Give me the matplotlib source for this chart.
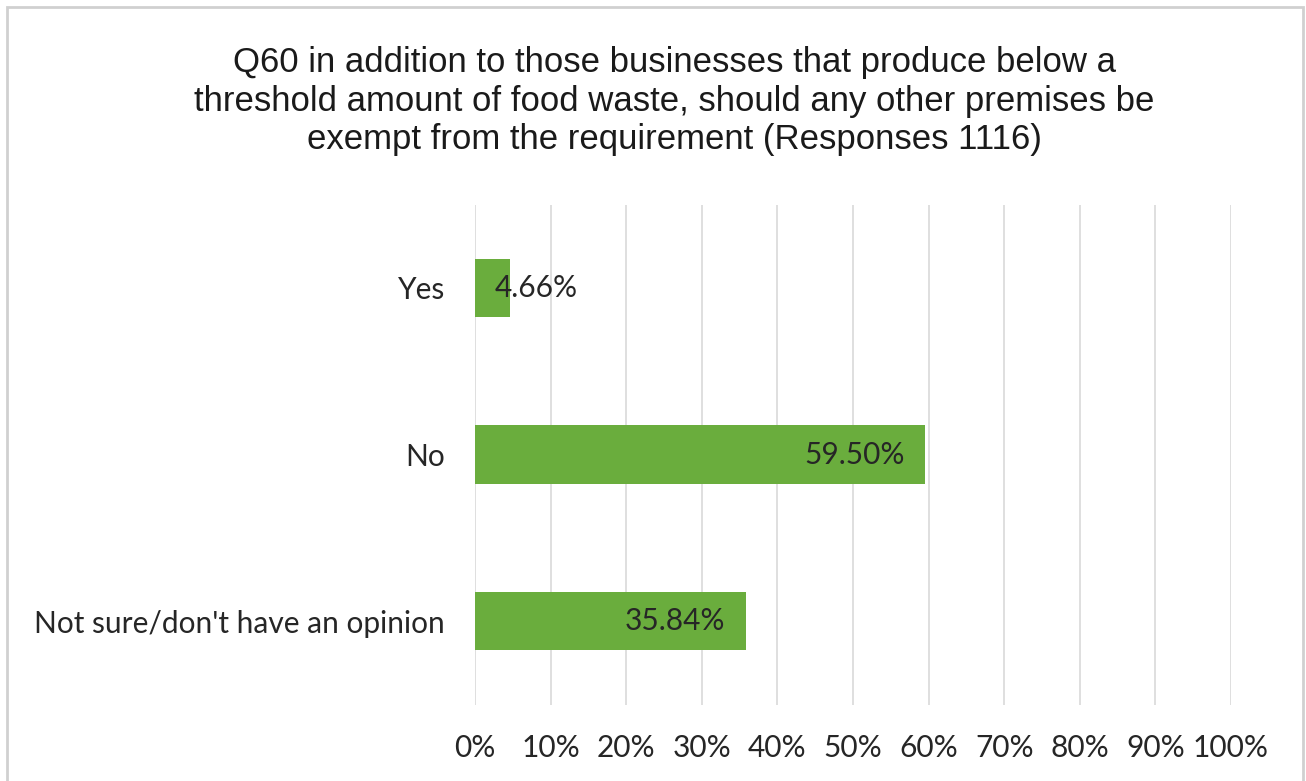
import matplotlib.pyplot as plt
import matplotlib.patches as mpatches
from matplotlib.ticker import FuncFormatter, MultipleLocator

# ─── Data ─────────────────────────────────────────────────────────────────────

CATEGORIES = ["Yes", "No", "Not sure/don't have an opinion"]
PERCENTAGES = [4.66, 59.50, 35.84]
TITLE = ("Q60 in addition to those businesses that produce below a\n"
         "threshold amount of food waste, should any other premises be\n"
         "exempt from the requirement (Responses 1116)")

BAR_COLOR = "#6aad3d"
LABEL_FONT = ["Lato", "DejaVu Sans"]
TITLE_FONT = ["Liberation Sans", "DejaVu Sans"]
LABEL_SIZE = 21.5


# ─── Figure ───────────────────────────────────────────────────────────────────

W, H = 1306, 781
fig = plt.figure(figsize=(W / 100, H / 100), dpi=100)
fig.patch.set_facecolor("white")

# light chart frame
frame = mpatches.Rectangle((7 / W, -0.05), (1303 - 7) / W, 1.05 - 7 / H,
                           transform=fig.transFigure, fill=False,
                           edgecolor="#d0d0d0", linewidth=2)
fig.add_artist(frame)

left, right = 475 / W, 1231 / W
top, bottom = 1 - 204.5 / H, 1 - 704.5 / H
ax = fig.add_axes([left, bottom, right - left, top - bottom])

ypos = range(len(CATEGORIES))
ax.barh(ypos, PERCENTAGES, height=0.35, color=BAR_COLOR, zorder=3)

ax.set_xlim(0, 100)
ax.set_ylim(len(CATEGORIES) - 0.5, -0.5)
ax.xaxis.set_major_locator(MultipleLocator(10))
ax.xaxis.set_major_formatter(FuncFormatter(lambda v, _: f"{v:.0f}%"))
ax.grid(axis="x", color="#d9d9d9", linewidth=1.2, zorder=0)

ax.set_yticks(list(ypos))
ax.set_yticklabels(CATEGORIES)
for spine in ax.spines.values():
    spine.set_visible(False)
ax.tick_params(axis="both", length=0, labelsize=LABEL_SIZE, colors="#262626")
ax.tick_params(axis="x", pad=21)
ax.tick_params(axis="y", pad=21.5)
for lbl in ax.get_xticklabels() + ax.get_yticklabels():
    lbl.set_fontfamily(LABEL_FONT)

# value labels: inside the end of the bar, or just past the start for short bars
for y, val in zip(ypos, PERCENTAGES):
    if val > 10:
        ax.text(val - 2.7, y, f"{val:.2f}%", ha="right", va="center",
                fontsize=LABEL_SIZE, color="#262626", family=LABEL_FONT, zorder=4)
    else:
        ax.text(2.6, y, f"{val:.2f}%", ha="left", va="center",
                fontsize=LABEL_SIZE, color="#262626", family=LABEL_FONT, zorder=4)

fig.text(0.5 * (232 + 1117) / W, 1 - 101 / H, TITLE, ha="center", va="center",
         fontsize=25, family=TITLE_FONT, color="#1a1a1a", linespacing=1.2)

fig.savefig("out.png", dpi=100)
